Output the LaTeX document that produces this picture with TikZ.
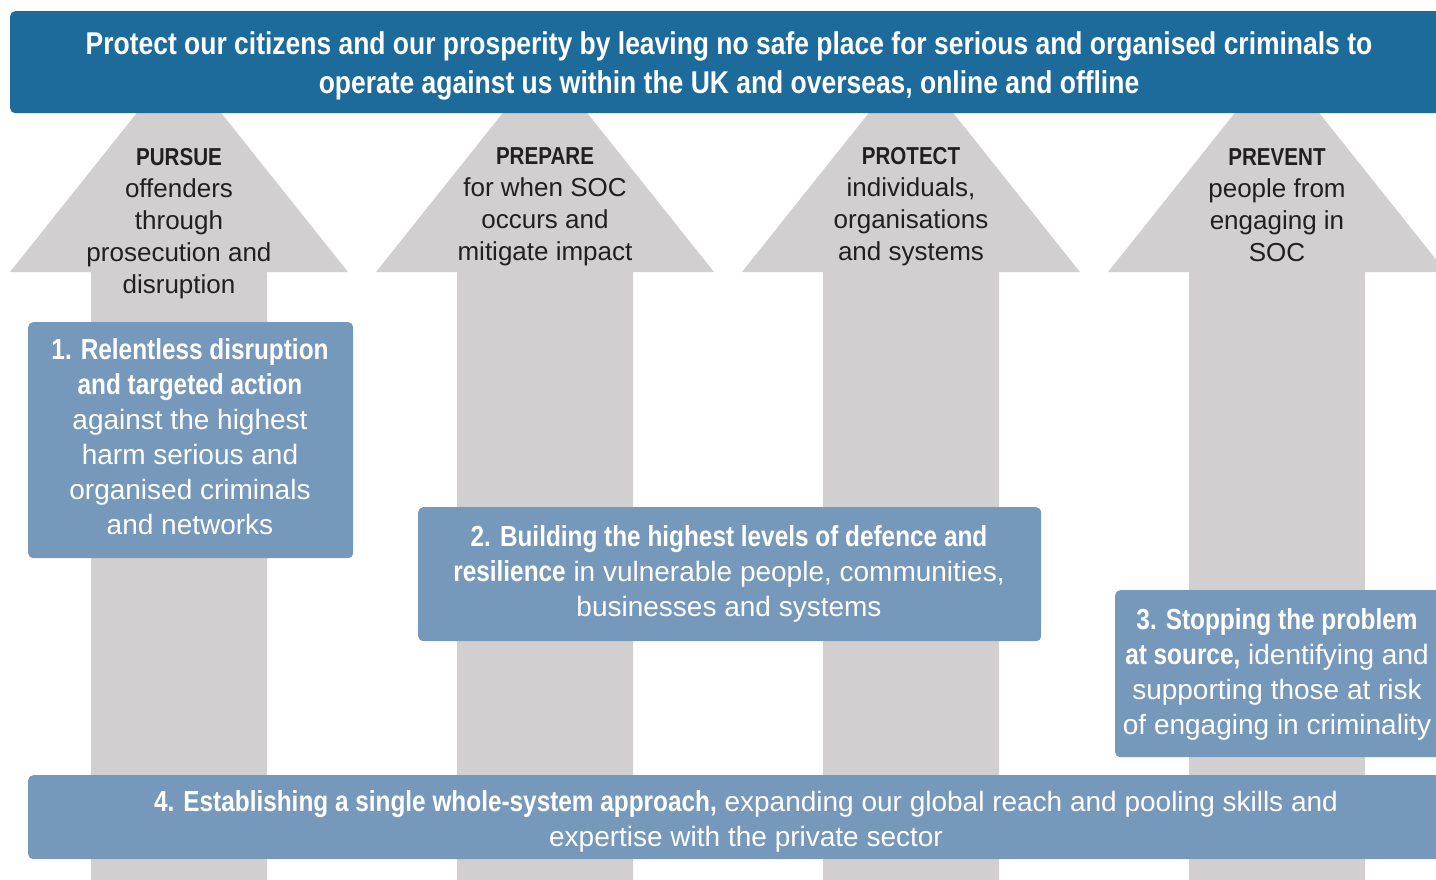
\documentclass[tikz,border=0pt]{standalone}
\usepackage{fontspec}
\setmainfont{Liberation Sans}
\newfontfamily\condb[FakeStretch=0.84]{Liberation Sans}
\newcommand\boldpart[1]{{\condb\bfseries\fontsize{29}{35}\selectfont #1}}
\newcommand\titlepart[1]{{\condb\bfseries\fontsize{24.5}{32}\selectfont #1}}
\definecolor{bannerblue}{HTML}{1C6B9B}
\definecolor{boxblue}{HTML}{7698BB}
\definecolor{arrowgray}{HTML}{D1CFD0}
\definecolor{darktext}{HTML}{231F20}
\begin{document}
\begin{tikzpicture}[x=1pt,y=-1pt,
  banner/.style={fill=bannerblue, rounded corners=5pt, inner sep=0pt},
  bluebox/.style={fill=boxblue, rounded corners=5pt, inner sep=0pt},
  bannertext/.style={text=white, align=center, font=\condb\bfseries\fontsize{31.5}{38.5}\selectfont},
  graytext/.style={text=darktext, align=center, font=\fontsize{26}{32}\selectfont},
  boxtext/.style={text=white, align=center, font=\fontsize{28}{35}\selectfont},
]
\useasboundingbox (0,0) rectangle (1436,879);
\clip (0,0) rectangle (1436,879);
% arrows
\foreach \cx in {179,545,911,1277}{
  \fill[arrowgray] ({\cx-169},272) -- (\cx,60) -- ({\cx+169},272) -- ({\cx+88},272)
    -- ({\cx+88},890) -- ({\cx-88},890) -- ({\cx-88},272) -- cycle;
}
% banner
\node[banner, anchor=north west, minimum width=1450, minimum height=102] (goal) at (10,11) {};
\node[bannertext] (goaltext) at (729,66) {Protect our citizens and our prosperity by leaving no safe place for serious and organised criminals to\\operate against us within the UK and overseas, online and offline};
% arrow labels
\node[graytext] (pursue) at (179,223.5) {\titlepart{PURSUE}\\offenders\\through\\prosecution and\\disruption};
\node[graytext] (prepare) at (545,206.5) {\titlepart{PREPARE}\\for when SOC\\occurs and\\mitigate impact};
\node[graytext] (protect) at (911,206.5) {\titlepart{PROTECT}\\individuals,\\organisations\\and systems};
\node[graytext] (prevent) at (1277,205.5) {\titlepart{PREVENT}\\people from\\engaging in\\SOC};
% boxes
\node[bluebox, anchor=north west, minimum width=325, minimum height=236] (b1) at (28,322) {};
\node[boxtext] (t1) at (190,437) {\boldpart{1. Relentless disruption}\\\boldpart{and targeted action}\\against the highest\\harm serious and\\organised criminals\\and networks};
\node[bluebox, anchor=north west, minimum width=623, minimum height=134] (b2) at (418,507) {};
\node[boxtext] (t2) at (729,574) {\boldpart{2. Building the highest levels of defence and}\\\boldpart{resilience} in vulnerable people, communities,\\businesses and systems};
\node[bluebox, anchor=north west, minimum width=340, minimum height=167] (b3) at (1115,590) {};
\node[boxtext] (t3) at (1277,674) {\boldpart{3. Stopping the problem}\\\boldpart{at source,} identifying and\\supporting those at risk\\of engaging in criminality};
\node[bluebox, anchor=north west, minimum width=1430, minimum height=84] (b4) at (28,775) {};
\node[boxtext] (t4) at (746,821.5) {\boldpart{4. Establishing a single whole-system approach,} expanding our global reach and pooling skills and\\expertise with the private sector};
\end{tikzpicture}
\end{document}
